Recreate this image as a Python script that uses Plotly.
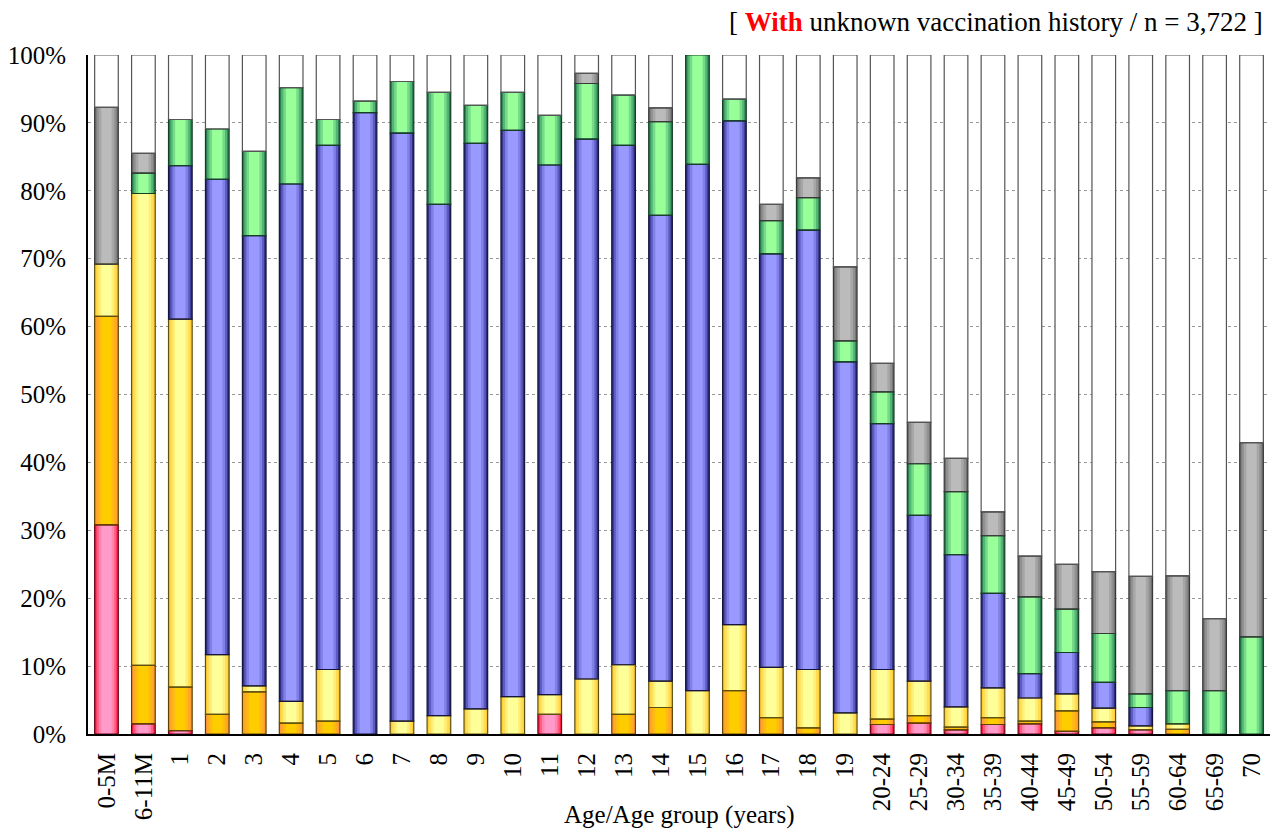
import plotly.graph_objects as go

categories = ["0-5M", "6-11M", "1", "2", "3", "4", "5", "6", "7", "8", "9", "10",
              "11", "12", "13", "14", "15", "16", "17", "18", "19",
              "20-24", "25-29", "30-34", "35-39", "40-44", "45-49", "50-54",
              "55-59", "60-64", "65-69", "70"]

# percentage of each vaccination-status segment (bottom to top)
red    = [30.8, 1.5, 0.5, 0, 0, 0, 0, 0, 0, 0, 0, 0, 2.9, 0, 0, 0, 0, 0, 0, 0, 0,
          1.4, 1.6, 0.6, 1.4, 1.5, 0.4, 0.9, 0.6, 0, 0, 0]
orange = [30.7, 8.6, 6.4, 2.9, 6.2, 1.6, 1.9, 0, 0, 0, 0, 0, 0, 0, 2.9, 3.9, 0, 6.4, 2.4, 0.9, 0,
          0.8, 1.1, 0.4, 1.0, 0.4, 3.0, 0.9, 0, 0.7, 0, 0]
yellow = [7.7, 69.5, 54.2, 8.8, 0.9, 3.2, 7.6, 0, 1.9, 2.7, 3.7, 5.5, 2.9, 8.1, 7.3, 3.9, 6.4, 9.7, 7.4, 8.6, 3.1,
          7.3, 5.1, 3.0, 4.4, 3.4, 2.5, 2.0, 0.6, 0.8, 0, 0]
blue   = [0, 0, 22.6, 70.0, 66.3, 76.2, 77.2, 91.5, 86.6, 75.3, 83.3, 83.4, 78.0, 79.5, 76.5, 68.6, 77.5, 74.2, 60.9, 64.7, 51.7,
          36.2, 24.4, 22.4, 13.9, 3.6, 6.1, 3.8, 2.7, 0, 0, 0]
green  = [0, 3.0, 6.8, 7.4, 12.4, 14.2, 3.8, 1.7, 7.6, 16.5, 5.6, 5.6, 7.3, 8.2, 7.4, 13.8, 16.1, 3.2, 4.9, 4.8, 3.1,
          4.7, 7.6, 9.3, 8.5, 11.3, 6.4, 7.2, 2.0, 4.9, 6.4, 14.3]
gray   = [23.1, 2.9, 0, 0, 0, 0, 0, 0, 0, 0, 0, 0, 0, 1.5, 0, 2.0, 0, 0, 2.4, 2.9, 10.9,
          4.2, 6.1, 4.9, 3.5, 6.0, 6.6, 9.1, 17.3, 16.9, 10.6, 28.6]

series = [red, orange, yellow, blue, green, gray]
# remaining share up to 100 %
white = [round(100 - sum(s[i] for s in series), 1) for i in range(len(categories))]
series.append(white)

# gradient layers (outer -> inner) and outline colour per segment
palettes = [
    (["#ff1f44", "#ff5c80", "#ff85ae", "#ff9acb"], "#6a0018"),
    (["#ff9933", "#ffaa22", "#ffbb11", "#ffcc00"], "#5e4000"),
    (["#ffcc33", "#ffdd55", "#ffee77", "#ffff99"], "#5e5010"),
    (["#2e2e80", "#5c5cc0", "#8080e8", "#9999ff"], "#14143f"),
    (["#2b8050", "#52b573", "#75da8a", "#99ff99"], "#153f25"),
    (["#707070", "#909090", "#a6a6a6", "#bbbbbb"], "#383838"),
    (["#ffffff"], "#555555"),
]
layer_widths = [0.64, 0.54, 0.42, 0.28]
BAR_W = 0.64

fig = go.Figure()
bases = [0.0] * len(categories)
outline_traces = []
for vals, (cols, edge) in zip(series, palettes):
    base = list(bases)
    yv = [v if v > 0 else None for v in vals]
    for col, w in zip(cols, layer_widths):
        fig.add_trace(go.Bar(x=categories, y=yv, base=base, width=w,
                             marker=dict(color=col, line=dict(width=0)),
                             showlegend=False, hoverinfo="skip"))
    outline_traces.append(go.Bar(x=categories, y=yv, base=base, width=BAR_W,
                                 marker=dict(color="rgba(0,0,0,0)", line=dict(width=1.2, color=edge)),
                                 showlegend=False, hoverinfo="skip"))
    bases = [b + v for b, v in zip(bases, vals)]
for t in outline_traces:
    fig.add_trace(t)

FONT = "Times New Roman"
fig.update_layout(
    width=1271, height=822,
    barmode="overlay",
    plot_bgcolor="white", paper_bgcolor="white",
    margin=dict(l=80, r=9, t=47, b=96),
    font=dict(family=FONT, size=25, color="black"),
    xaxis=dict(type="category", categoryorder="array", categoryarray=categories,
               tickangle=-90, tickfont=dict(family=FONT, size=25), automargin=False,
               ticklabelstandoff=7,
               showline=True, linecolor="black", linewidth=2, ticks="",
               showgrid=False, range=[-0.5, len(categories) - 0.5]),
    yaxis=dict(range=[0, 100], dtick=10, ticksuffix="%", automargin=False,
               tickfont=dict(family=FONT, size=25), ticklabelstandoff=15,
               showline=True, linecolor="black", linewidth=2, ticks="",
               showgrid=True, gridcolor="#999999", griddash="dot", gridwidth=1),
    annotations=[
        dict(text="Age/Age group (years)", x=0.5, y=-0.119, xref="paper", yref="paper",
             showarrow=False, xanchor="center", yanchor="middle",
             font=dict(family=FONT, size=25)),
        dict(text="[ <b><span style='color:#ff0000'>With</span></b> unknown vaccination history / n = 3,722 ]",
             x=0.996, y=1.049, xref="paper", yref="paper", showarrow=False,
             xanchor="right", yanchor="middle", font=dict(family=FONT, size=27)),
    ],
)

fig.write_html("out.html")
